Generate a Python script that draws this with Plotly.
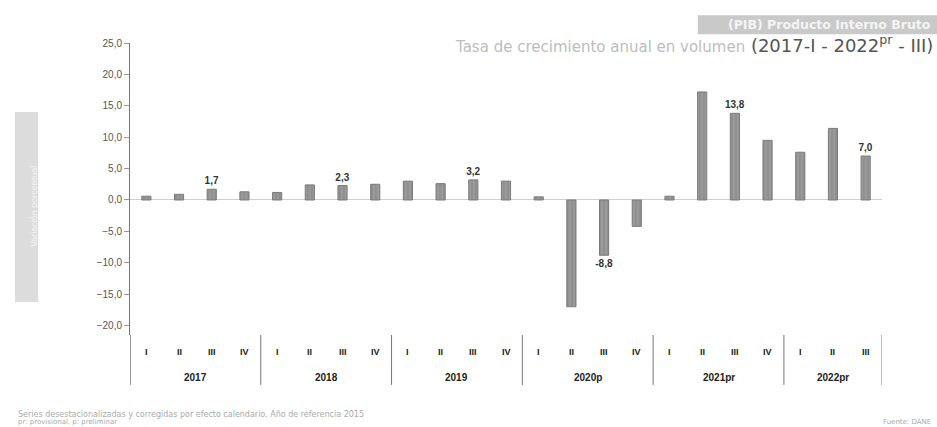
import plotly.graph_objects as go

quarters = ["I", "II", "III", "IV", "I", "II", "III", "IV", "I", "II", "III", "IV",
            "I", "II", "III", "IV", "I", "II", "III", "IV", "I", "II", "III"]
years = ["2017"] * 4 + ["2018"] * 4 + ["2019"] * 4 + ["2020p"] * 4 + ["2021pr"] * 4 + ["2022pr"] * 3
growth = [0.6, 0.9, 1.7, 1.3, 1.2, 2.4, 2.3, 2.5, 3.0, 2.6, 3.2, 3.0,
          0.5, -17.0, -8.8, -4.2, 0.6, 17.2, 13.8, 9.5, 7.6, 11.4, 7.0]
labels = ["", "", "1,7", "", "", "", "2,3", "", "", "", "3,2", "",
          "", "", "-8,8", "", "", "", "13,8", "", "", "", "7,0"]
y_ticks = [25, 20, 15, 10, 5, 0, -5, -10, -15, -20]

cats = [f"{y}-{q}" for y, q in zip(years, quarters)]
FONT = "Liberation Sans Narrow, Liberation Sans, Arial"

fig = go.Figure()
fig.add_trace(go.Bar(
    x=cats, y=growth, width=0.28,
    marker=dict(color="#9a9a9a", line=dict(color="#7a7a7a", width=1),
                pattern=dict(shape="|", fgcolor="#777777", size=4, solidity=0.3)),
    text=[f"<b>{t}</b>" if t else "" for t in labels],
    textposition="outside", cliponaxis=False, constraintext="none",
    textfont=dict(family=FONT, size=10, color="#333"),
))

fig.update_layout(
    width=937, height=427,
    margin=dict(l=130, r=55, t=43, b=92),
    paper_bgcolor="white", plot_bgcolor="white",
    separators=",.",
    showlegend=False,
    font=dict(family=FONT, color="#333"),
)
fig.update_yaxes(
    range=[-21.5, 25], tickvals=y_ticks, tickformat=".1f",
    showgrid=False, showline=True, linecolor="#777", linewidth=1,
    ticks="outside", ticklen=5, tickcolor="#999",
    tickfont=dict(size=10, color="#555"),
    zeroline=True, zerolinecolor="#cfcfcf", zerolinewidth=1,
)
fig.update_xaxes(
    type="category", showgrid=False, showline=False, ticks="", showticklabels=False,
    range=[-0.5, len(cats) - 0.5],
)

# Quarter and year labels
for i, q in enumerate(quarters):
    fig.add_annotation(x=cats[i], xref="x", y=-0.058, yref="paper", yanchor="middle",
                       text=f"<b>{q}</b>", showarrow=False, font=dict(size=9, color="#222"))
groups = []
for i, y in enumerate(years):
    if not groups or groups[-1][0] != y:
        groups.append([y, i, i])
    else:
        groups[-1][2] = i
for y, a, b in groups:
    fig.add_annotation(x=(a + b) / 2, xref="x", y=-0.144, yref="paper", yanchor="middle",
                       text=f"<b>{y}</b>", showarrow=False, font=dict(size=10, color="#222"))
    fig.add_shape(type="line", xref="x", yref="paper", x0=a - 0.5, x1=a - 0.5, y0=0.0, y1=-0.171,
                  line=dict(color="#777", width=1))
fig.add_shape(type="line", xref="x", yref="paper", x0=len(cats) - 0.5, x1=len(cats) - 0.5,
              y0=0.0, y1=-0.171, line=dict(color="#777", width=1))
fig.add_shape(type="line", xref="x", yref="paper", x0=-0.5, x1=-0.5, y0=0.0, y1=-0.171,
              line=dict(color="#777", width=1))

# Title box
fig.add_shape(type="rect", xref="paper", yref="paper", x0=0.755, x1=1.075, y0=1.03, y1=1.095,
              fillcolor="#c9c9c9", line=dict(width=0), layer="below")
fig.add_annotation(xref="paper", yref="paper", x=1.068, y=1.062, xanchor="right", yanchor="middle",
                   text="<b>(PIB) Producto Interno Bruto</b>", showarrow=False,
                   font=dict(family="DejaVu Sans", size=12.5, color="#f4f4f4"))
fig.add_annotation(xref="paper", yref="paper", x=1.07, y=0.997, xanchor="right", yanchor="middle",
                   text="<span style='color:#bdbdbd;font-size:15px'>Tasa de crecimiento anual en volumen</span> "
                        "(2017-I - 2022<sup>pr</sup> - III)",
                   showarrow=False, font=dict(family="DejaVu Sans", size=18, color="#555"))

# Left vertical label box
fig.add_shape(type="rect", xref="paper", yref="paper", x0=-0.153, x1=-0.122, y0=0.113, y1=0.764,
              fillcolor="#dcdcdc", line=dict(width=0))
fig.add_annotation(xref="paper", yref="paper", x=-0.1375, y=0.44, textangle=-90,
                   text="Variación porcentual", showarrow=False,
                   font=dict(size=9, color="#f2f2f2"))

# Footnotes
fig.add_annotation(xref="paper", yref="paper", x=-0.152, y=-0.271, xanchor="left", yanchor="middle",
                   text="Series desestacionalizadas y corregidas por efecto calendario. Año de referencia 2015",
                   showarrow=False, align="left", font=dict(family="DejaVu Sans", size=8, color="#aaa"))
fig.add_annotation(xref="paper", yref="paper", x=-0.152, y=-0.298, xanchor="left", yanchor="middle",
                   text="pr: provisional, p: preliminar",
                   showarrow=False, align="left", font=dict(family="DejaVu Sans", size=7, color="#aaa"))
fig.add_annotation(xref="paper", yref="paper", x=1.068, y=-0.298, xanchor="right", yanchor="middle",
                   text="Fuente: DANE", showarrow=False, font=dict(family="DejaVu Sans", size=7, color="#aaa"))

fig.write_html("out.html", config={"displayModeBar": False},
               post_script="document.body.style.margin='0';document.body.style.overflow='hidden';")
